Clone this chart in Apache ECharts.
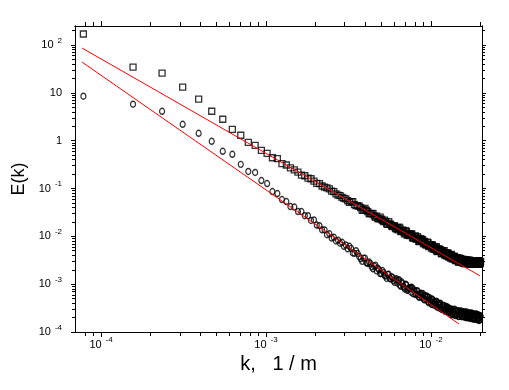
<!DOCTYPE html>
<html>
<head>
<meta charset="utf-8">
<script src="https://cdn.jsdelivr.net/npm/echarts@6/dist/echarts.min.js"></script>
<style>
html,body{margin:0;padding:0;background:#fff;}
#chart{width:509px;height:390px;}
</style>
</head>
<body>
<div id="chart"></div>
<script>
// wavenumber k, 1/m (first sample set)
const kValues = [
  7.8125e-5, 1.5625e-4, 2.3438e-4, 3.125e-4, 3.9063e-4, 4.6875e-4, 5.4688e-4, 6.25e-4, 7.0313e-4, 7.8125e-4,
  8.5938e-4, 9.375e-4, 1.0156e-3, 1.0938e-3, 1.1719e-3, 1.25e-3, 1.3281e-3, 1.4063e-3, 1.4844e-3, 1.5625e-3,
  1.6406e-3, 1.7188e-3, 1.7969e-3, 1.875e-3, 1.9531e-3, 2.0313e-3, 2.1094e-3, 2.1875e-3, 2.2656e-3, 2.3438e-3,
  2.4219e-3, 2.5e-3, 2.5781e-3, 2.6563e-3, 2.7344e-3, 2.8125e-3, 2.8906e-3, 2.9688e-3, 3.0469e-3, 3.125e-3,
  3.2813e-3, 3.4375e-3, 3.5938e-3, 3.75e-3, 3.9063e-3, 4.0625e-3, 4.2188e-3, 4.375e-3, 4.5313e-3, 4.6875e-3,
  4.8438e-3, 5.0e-3, 5.1563e-3, 5.3125e-3, 5.4688e-3, 5.625e-3, 5.7813e-3, 5.9375e-3, 6.0938e-3, 6.25e-3,
  6.4063e-3, 6.5625e-3, 6.7188e-3, 6.875e-3, 7.0313e-3, 7.1875e-3, 7.3438e-3, 7.5e-3, 7.6563e-3, 7.8125e-3,
  7.9688e-3, 8.125e-3, 8.2813e-3, 8.4375e-3, 8.5938e-3, 8.75e-3, 8.9063e-3, 9.0625e-3, 9.2188e-3, 9.375e-3,
  9.5313e-3, 9.6875e-3, 9.8438e-3, 0.01, 0.010156, 0.010313, 0.010469, 0.010625, 0.010781, 0.010938,
  0.011094, 0.01125, 0.011406, 0.011563, 0.011719, 0.011875, 0.012031, 0.012188, 0.012344, 0.0125,
  0.012656, 0.012813, 0.012969, 0.013125, 0.013281, 0.013438, 0.013594, 0.01375, 0.013906, 0.014063,
  0.014219, 0.014375, 0.014531, 0.014688, 0.014844, 0.015, 0.015156, 0.015313, 0.015469, 0.015625,
  0.015781, 0.015938, 0.016094, 0.01625, 0.016406, 0.016563, 0.016719, 0.016875, 0.017031, 0.017188,
  0.017344, 0.0175, 0.017656, 0.017813, 0.017969, 0.018125, 0.018281, 0.018438, 0.018594, 0.01875,
  0.018906, 0.019063, 0.019219, 0.019375, 0.019531, 0.019688, 0.019844, 0.02
];
// upper spectrum (squares)
const squareE = [
  170, 34.6, 25.9, 13.2, 7.4, 4.13, 2.81, 1.73, 1.30, 0.925,
  0.80, 0.63, 0.545, 0.44, 0.42, 0.33, 0.31, 0.27, 0.245, 0.22,
  0.19, 0.185, 0.165, 0.16, 0.143, 0.128, 0.126, 0.113, 0.107, 0.103,
  0.098, 0.088, 0.086, 0.077, 0.073, 0.071, 0.065, 0.062, 0.061, 0.056,
  0.053, 0.046, 0.044, 0.040, 0.036, 0.035, 0.030, 0.0302, 0.0268, 0.0265,
  0.0232, 0.0230, 0.0204, 0.0204, 0.0178, 0.0183, 0.0163, 0.0164, 0.0147, 0.0150,
  0.0155, 0.0125, 0.0135, 0.0119, 0.0132, 0.0105, 0.0109, 0.0113, 0.0112, 0.0092,
  0.0100, 0.0088, 0.0099, 0.0079, 0.0082, 0.0086, 0.0085, 0.0070, 0.0075, 0.0067,
  0.0076, 0.0061, 0.0064, 0.0067, 0.0066, 0.0054, 0.0060, 0.0053, 0.0061, 0.0048,
  0.0051, 0.0053, 0.0053, 0.0044, 0.0048, 0.0044, 0.0050, 0.0040, 0.0042, 0.0045,
  0.0045, 0.0037, 0.0040, 0.0036, 0.0042, 0.0034, 0.0035, 0.0038, 0.0038, 0.0031,
  0.0035, 0.0031, 0.0036, 0.0029, 0.0031, 0.0034, 0.0034, 0.0029, 0.0032, 0.0029,
  0.0033, 0.0027, 0.0029, 0.0031, 0.0032, 0.0027, 0.0030, 0.0028, 0.0032, 0.0026,
  0.0028, 0.0031, 0.0031, 0.0026, 0.0029, 0.0027, 0.0031, 0.0026, 0.0028, 0.0030,
  0.0031, 0.0026, 0.0029, 0.0027, 0.0031, 0.0026, 0.0028, 0.0030
];
// lower spectrum (circles)
const circleE = [
  8.5, 5.78, 4.12, 2.20, 1.43, 0.97, 0.60, 0.52, 0.32, 0.227,
  0.217, 0.147, 0.127, 0.0865, 0.0785, 0.0588, 0.0533, 0.042, 0.041, 0.033,
  0.033, 0.027, 0.027, 0.0215, 0.022, 0.0172, 0.0167, 0.0137, 0.0136, 0.0108,
  0.0113, 0.0092, 0.0096, 0.0080, 0.0083, 0.0072, 0.0075, 0.0062, 0.0066, 0.0055,
  0.0056, 0.0044, 0.0044, 0.0034, 0.0035, 0.0028, 0.0029, 0.0023, 0.0024, 0.0019,
  0.0020, 0.00166, 0.00176, 0.00148, 0.00160, 0.00132, 0.00143, 0.00118, 0.00124, 0.00105,
  0.00124, 0.00090, 0.00103, 0.00086, 0.00100, 0.00074, 0.00081, 0.00085, 0.00086, 0.00063,
  0.00073, 0.00062, 0.00072, 0.00054, 0.00060, 0.00063, 0.00064, 0.00048, 0.00055, 0.00047,
  0.00055, 0.00041, 0.00046, 0.00049, 0.00049, 0.00037, 0.00043, 0.00037, 0.00044, 0.00033,
  0.00037, 0.00039, 0.00040, 0.00030, 0.00035, 0.00029, 0.00036, 0.00027, 0.00030, 0.00033,
  0.00033, 0.00026, 0.00030, 0.00026, 0.00030, 0.00023, 0.00026, 0.00028, 0.00030, 0.00022,
  0.00027, 0.00023, 0.00028, 0.00021, 0.000245, 0.000265, 0.00028, 0.00021, 0.00025, 0.00022,
  0.000264, 0.000204, 0.000233, 0.000253, 0.000265, 0.0002, 0.00024, 0.000207, 0.00025, 0.000193,
  0.000221, 0.000239, 0.000251, 0.00019, 0.000228, 0.000197, 0.000237, 0.000184, 0.000209, 0.000227,
  0.000238, 0.000181, 0.000217, 0.000187, 0.000226, 0.000174, 0.000199, 0.000216
];
// second sample set (odd wavenumber bins)
const kValuesOdd = [
  3.2031e-3, 3.3594e-3, 3.5156e-3, 3.6719e-3, 3.8281e-3, 3.9844e-3, 4.1406e-3, 4.2969e-3, 4.4531e-3, 4.6094e-3,
  4.7656e-3, 4.9219e-3, 5.0781e-3, 5.2344e-3, 5.3906e-3, 5.5469e-3, 5.7031e-3, 5.8594e-3, 6.0156e-3, 6.1719e-3,
  6.3281e-3, 6.4844e-3, 6.6406e-3, 6.7969e-3, 6.9531e-3, 7.1094e-3, 7.2656e-3, 7.4219e-3, 7.5781e-3, 7.7344e-3,
  7.8906e-3, 8.0469e-3, 8.2031e-3, 8.3594e-3, 8.5156e-3, 8.6719e-3, 8.8281e-3, 8.9844e-3, 9.1406e-3, 9.2969e-3,
  9.4531e-3, 9.6094e-3, 9.7656e-3, 9.9219e-3, 0.010078, 0.010234, 0.010391, 0.010547, 0.010703, 0.010859,
  0.011016, 0.011172, 0.011328, 0.011484, 0.011641, 0.011797, 0.011953, 0.012109, 0.012266, 0.012422,
  0.012578, 0.012734, 0.012891, 0.013047, 0.013203, 0.013359, 0.013516, 0.013672, 0.013828, 0.013984,
  0.014141, 0.014297, 0.014453, 0.014609, 0.014766, 0.014922, 0.015078, 0.015234, 0.015391, 0.015547,
  0.015703, 0.015859, 0.016016, 0.016172, 0.016328, 0.016484, 0.016641, 0.016797, 0.016953, 0.017109,
  0.017266, 0.017422, 0.017578, 0.017734, 0.017891, 0.018047, 0.018203, 0.018359, 0.018516, 0.018672,
  0.018828, 0.018984, 0.019141, 0.019297, 0.019453, 0.019609, 0.019766, 0.019922
];
const squareEOdd = [
  0.0512, 0.053, 0.0437, 0.0426, 0.035, 0.0383, 0.033, 0.0295, 0.0299, 0.0249,
  0.0235, 0.0253, 0.0215, 0.0218, 0.0182, 0.0202, 0.0177, 0.016, 0.0168, 0.0141,
  0.0136, 0.0149, 0.0129, 0.0133, 0.0112, 0.0126, 0.0113, 0.0104, 0.0110, 0.0094,
  0.0092, 0.0102, 0.0088, 0.0092, 0.0078, 0.0089, 0.0079, 0.0073, 0.0078, 0.0067,
  0.0066, 0.0073, 0.0064, 0.0067, 0.0057, 0.0065, 0.0058, 0.0054, 0.0058, 0.0050,
  0.0049, 0.0055, 0.0049, 0.0050, 0.0043, 0.0050, 0.0045, 0.0042, 0.0045, 0.0039,
  0.0039, 0.0043, 0.0038, 0.0041, 0.0035, 0.0040, 0.0036, 0.0034, 0.0037, 0.0033,
  0.0032, 0.0035, 0.0032, 0.0033, 0.0029, 0.0035, 0.0031, 0.0029, 0.0033, 0.0028,
  0.0028, 0.0032, 0.0029, 0.0031, 0.0027, 0.0032, 0.0030, 0.0028, 0.0031, 0.0027,
  0.0027, 0.0031, 0.0028, 0.0030, 0.0026, 0.0031, 0.0029, 0.0027, 0.0030, 0.0027,
  0.0027, 0.0031, 0.0028, 0.0030, 0.0026, 0.0031, 0.0028, 0.0027
];
const circleEOdd = [
  0.0062, 0.0045, 0.0050, 0.0038, 0.0030, 0.0035, 0.0027, 0.0027, 0.0021, 0.0025,
  0.00216, 0.00167, 0.00193, 0.00152, 0.00132, 0.00161, 0.00128, 0.00137, 0.00109, 0.0013,
  0.00119, 0.00095, 0.00112, 0.00090, 0.00079, 0.00096, 0.00077, 0.00084, 0.00068, 0.00082,
  0.00076, 0.00061, 0.00073, 0.00060, 0.00053, 0.00065, 0.00053, 0.00058, 0.00047, 0.00058,
  0.00054, 0.00043, 0.00053, 0.00043, 0.00038, 0.00047, 0.00039, 0.00042, 0.00035, 0.00043,
  0.00040, 0.00032, 0.00039, 0.00032, 0.00030, 0.00036, 0.00030, 0.00033, 0.00028, 0.00034,
  0.00031, 0.00026, 0.00031, 0.00027, 0.00023, 0.00030, 0.00024, 0.00027, 0.00023, 0.00029,
  0.00027, 0.000225, 0.00028, 0.000234, 0.000212, 0.000266, 0.000223, 0.00025, 0.00021, 0.000266,
  0.000253, 0.00021, 0.000259, 0.000219, 0.000199, 0.000249, 0.000209, 0.000235, 0.000198, 0.000249,
  0.000239, 0.000197, 0.000244, 0.000206, 0.000187, 0.000235, 0.000197, 0.000221, 0.000186, 0.000235,
  0.000224, 0.000185, 0.000229, 0.000193, 0.000176, 0.000219, 0.000184, 0.000217
];
// power-law fit lines (end points)
const fitUpperK = [7.67e-5, 0.0198];
const fitUpperE = [86.5, 1.50e-3];
const fitLowerK = [7.67e-5, 0.0148];
const fitLowerE = [44, 1.47e-4];

// axis ticks
const xMajor = [1e-4, 1e-3, 1e-2];
const xMinor = [8e-5, 9e-5, 2e-4, 3e-4, 4e-4, 5e-4, 6e-4, 7e-4, 8e-4, 9e-4,
  2e-3, 3e-3, 4e-3, 5e-3, 6e-3, 7e-3, 8e-3, 9e-3, 2e-2];
const yMajor = [1e-4, 1e-3, 1e-2, 1e-1, 1, 10, 100];
const yMinor = [2e-4, 3e-4, 4e-4, 5e-4, 6e-4, 7e-4, 8e-4, 9e-4,
  2e-3, 3e-3, 4e-3, 5e-3, 6e-3, 7e-3, 8e-3, 9e-3,
  2e-2, 3e-2, 4e-2, 5e-2, 6e-2, 7e-2, 8e-2, 9e-2,
  0.2, 0.3, 0.4, 0.5, 0.6, 0.7, 0.8, 0.9,
  2, 3, 4, 5, 6, 7, 8, 9,
  20, 30, 40, 50, 60, 70, 80, 90, 200];

const X_MIN = 6.95e-5, X_MAX = 0.0204;
const Y_MIN = 1e-4, Y_MAX = 250;

const FONT = 'Liberation Sans';
function fmt(v) {
  const e = Math.round(Math.log10(v));
  if (e === 0) return '{n|1}';
  if (e === 1) return '{n|10}';
  return '{n|10}{e|' + (e < 0 ? '-' + (-e) : String(e)) + '}';
}
const rich = {
  n: {fontSize: 11, fontFamily: FONT, color: '#000'},
  e: {fontSize: 8, fontFamily: FONT, color: '#000', padding: [0, 0, 9, 4]}
};

function axis(dim, pos, ticks, len, opts) {
  const a = {
    type: 'log', logBase: 10, position: pos,
    min: dim === 'x' ? X_MIN : Y_MIN,
    max: dim === 'x' ? X_MAX : Y_MAX,
    axisLine: {show: true, onZero: false, lineStyle: {color: '#000', width: 1}},
    axisTick: {show: true, customValues: ticks, length: len, lineStyle: {color: '#000', width: 1}},
    axisLabel: {show: false},
    splitLine: {show: false},
    minorTick: {show: false},
    minorSplitLine: {show: false}
  };
  return Object.assign(a, opts || {});
}

function pairs(ks, es) { return ks.map((k, i) => [k, es[i]]); }

const chart = echarts.init(document.getElementById('chart'), null, {renderer: 'canvas'});
const markerStyle = {color: 'rgba(0,0,0,0)', borderColor: '#000', borderWidth: 1.3};
const option = {
  animation: false,
  backgroundColor: '#fff',
  grid: {left: 75, right: 27, top: 26, bottom: 58, containLabel: false},
  xAxis: [
    axis('x', 'bottom', xMajor, 5, {
      axisLabel: {show: true, customValues: xMajor, formatter: fmt, rich: rich, margin: 4},
      name: 'k,   1 / m', nameLocation: 'middle', nameGap: 16,
      nameTextStyle: {fontSize: 20, fontFamily: FONT, color: '#000'}
    }),
    axis('x', 'bottom', xMinor, 4),
    axis('x', 'top', xMajor, 5),
    axis('x', 'top', xMinor, 4)
  ],
  yAxis: [
    axis('y', 'left', yMajor, 4, {
      axisLabel: {show: true, customValues: yMajor, formatter: fmt, rich: rich, margin: 13},
      name: 'E(k)', nameLocation: 'middle', nameGap: 36, nameRotate: 90,
      nameTextStyle: {fontSize: 18, fontFamily: FONT, color: '#000'}
    }),
    axis('y', 'left', yMinor, 3),
    axis('y', 'right', yMajor, 4),
    axis('y', 'right', yMinor, 3)
  ],
  series: [
    {
      type: 'scatter', xAxisIndex: 0, yAxisIndex: 0,
      data: pairs(kValues, squareE).concat(pairs(kValuesOdd, squareEOdd)),
      symbol: 'rect', symbolSize: 6,
      itemStyle: markerStyle,
      silent: true
    },
    {
      type: 'scatter', xAxisIndex: 0, yAxisIndex: 0,
      data: pairs(kValues, circleE).concat(pairs(kValuesOdd, circleEOdd)),
      symbol: 'circle', symbolSize: [5, 6],
      itemStyle: markerStyle,
      silent: true
    },
    {
      type: 'line', xAxisIndex: 0, yAxisIndex: 0,
      data: pairs(fitUpperK, fitUpperE),
      symbol: 'none', lineStyle: {color: '#ff0000', width: 1}, z: 5, silent: true
    },
    {
      type: 'line', xAxisIndex: 0, yAxisIndex: 0,
      data: pairs(fitLowerK, fitLowerE),
      symbol: 'none', lineStyle: {color: '#ff0000', width: 1}, z: 5, silent: true
    }
  ]
};
chart.setOption(option);
</script>
</body>
</html>
